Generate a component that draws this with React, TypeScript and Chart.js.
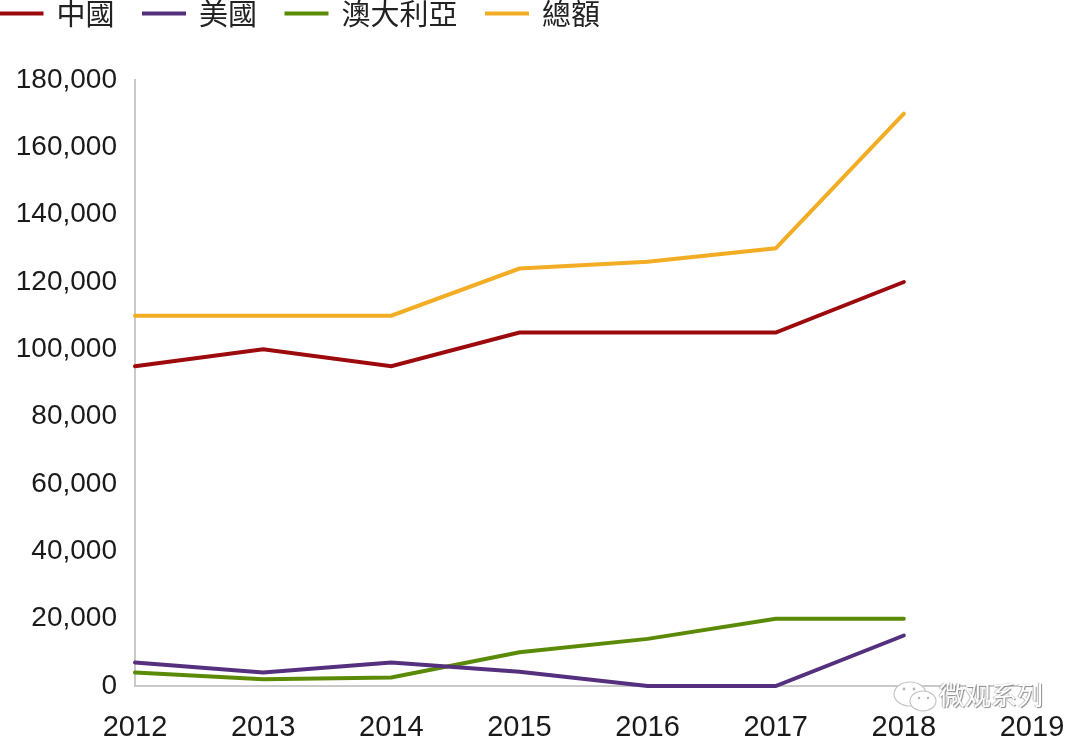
import React, { useEffect, useRef } from "react";
import { Chart, registerables } from "chart.js";

Chart.register(...registerables);

const years = ["2012", "2013", "2014", "2015", "2016", "2017", "2018", "2019"];
const china = [95000, 100000, 95000, 105000, 105000, 105000, 120000, null];
const usa = [7000, 4000, 7000, 4200, 0, 0, 15000, null];
const australia = [4000, 2000, 2500, 10000, 14000, 20000, 20000, null];
const total = [110000, 110000, 110000, 124000, 126000, 130000, 170000, null];

const OFFSET_X = 28;
const OFFSET_Y = 30;
const LEGEND_EXTRA = 42;

const legendGap = {
  id: "legendGap",
  beforeLayout(chart: any) {
    const lg = chart.legend;
    if (lg && !lg.__wrapped) {
      const orig = lg.fit;
      lg.fit = function () {
        orig.call(this);
        this.height += LEGEND_EXTRA;
      };
      lg.__wrapped = true;
    }
  },
};

const makeSet = (label: string, data: (number | null)[], color: string) => ({
  label,
  data,
  borderColor: color,
  backgroundColor: color,
  borderWidth: 4,
  pointRadius: 0,
  tension: 0,
  clip: false,
  borderCapStyle: "round" as const,
});

export default function App() {
  const ref = useRef<HTMLCanvasElement>(null);
  useEffect(() => {
    document.body.style.margin = "0";
    const family = "'Liberation Sans', Arial, sans-serif";
    const chart = new Chart(ref.current as HTMLCanvasElement, {
      type: "line",
      data: {
        labels: years,
        datasets: [
          makeSet("中國", china, "#9c0a0e"),
          makeSet("美國", usa, "#54307f"),
          makeSet("澳大利亞", australia, "#5b8a06"),
          makeSet("總額", total, "#f2ad24"),
        ],
      },
      options: {
        animation: false,
        responsive: false,
        devicePixelRatio: 1,
        layout: { padding: { left: 0, right: 48, top: 0, bottom: 0 } },
        plugins: {
          tooltip: { enabled: false },
          legend: {
            display: true,
            position: "top",
            align: "start",
            labels: {
              boxWidth: 41,
              boxHeight: 1,
              padding: 29,
              color: "#222222",
              font: { family: "'Noto Sans CJK TC', sans-serif", size: 29 },
              generateLabels: (c: any) =>
                c.data.datasets.map((d: any, i: number) => ({
                  text: d.label,
                  fillStyle: d.borderColor,
                  strokeStyle: d.borderColor,
                  lineWidth: 3,
                  fontColor: "#222222",
                  datasetIndex: i,
                })),
            },
          },
        },
        scales: {
          x: {
            type: "category",
            offset: false,
            grid: { display: false, drawTicks: false },
            border: { display: true, color: "#c9c9c9", width: 2 },
            ticks: {
              autoSkip: false,
              maxRotation: 0,
              padding: 25,
              color: "#1a1a1a",
              font: { family, size: 29 },
            },
            afterFit: (s: any) => {
              s.height = 58;
              s.paddingRight = 0;
            },
          },
          y: {
            min: 0,
            max: 180000,
            grid: { display: false, drawTicks: false },
            border: { display: true, color: "#c9c9c9", width: 2 },
            ticks: {
              stepSize: 20000,
              padding: 18,
              color: "#1a1a1a",
              font: { family, size: 28 },
              callback: (v: any) => Number(v).toLocaleString("en-US"),
            },
            afterFit: (s: any) => {
              s.width = 135 + OFFSET_X;
            },
          },
        },
      } as any,
      plugins: [legendGap],
    });
    return () => chart.destroy();
  }, []);

  return (
    <div style={{ position: "fixed", inset: 0, background: "#fff", overflow: "hidden" }}>
      <canvas
        ref={ref}
        width={1080 + OFFSET_X}
        height={744 + OFFSET_Y}
        style={{ position: "absolute", left: -OFFSET_X, top: -OFFSET_Y, display: "block" }}
      />
      <svg
        width="46"
        height="34"
        viewBox="0 0 46 34"
        style={{ position: "absolute", left: 892, top: 680 }}
      >
        <ellipse cx="18" cy="14" rx="16" ry="12" fill="#fff" stroke="#c4c4c4" strokeWidth="1.2" />
        <ellipse cx="31" cy="21" rx="13" ry="10" fill="#fff" stroke="#c4c4c4" strokeWidth="1.2" />
        <circle cx="12" cy="9" r="1.4" fill="#b5b5b5" />
        <circle cx="22" cy="9" r="1.4" fill="#b5b5b5" />
        <circle cx="27" cy="18" r="1.2" fill="#b5b5b5" />
        <circle cx="36" cy="18" r="1.2" fill="#b5b5b5" />
      </svg>
      <span
        style={{
          position: "absolute",
          left: 939,
          top: 676,
          fontFamily: "'Noto Sans CJK SC', sans-serif",
          fontSize: 26,
          lineHeight: "36px",
          color: "#fff",
          textShadow: "1px 1px 1px #8a8a8a, -1px 0 1px #b5b5b5",
          whiteSpace: "nowrap",
        }}
      >
        微观系列
      </span>
    </div>
  );
}
